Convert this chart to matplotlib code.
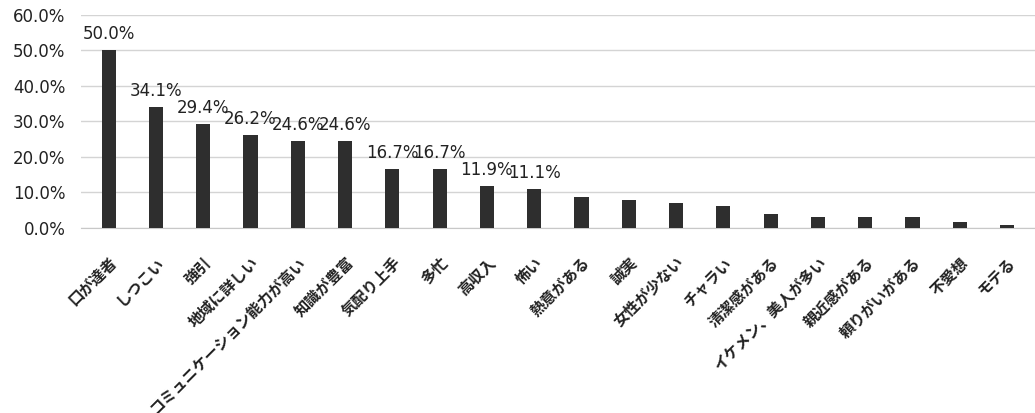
import numpy as np
import matplotlib
matplotlib.use("Agg")
import matplotlib.pyplot as plt
from matplotlib.ticker import FuncFormatter

plt.rcParams['font.family'] = ['Noto Sans CJK JP', 'DejaVu Sans']

# data
categories = ['口が達者', 'しつこい', '強引', '地域に詳しい', 'コミュニケーション能力が高い',
              '知識が豊富', '気配り上手', '多忙', '高収入', '怖い', '熱意がある', '誠実',
              '女性が少ない', 'チャラい', '清潔感がある', 'イケメン、美人が多い',
              '親近感がある', '頼りがいがある', '不愛想', 'モテる']
values = [50.0, 34.1, 29.4, 26.2, 24.6, 24.6, 16.7, 16.7, 11.9, 11.1,
          8.7, 7.9, 7.1, 6.3, 4.0, 3.2, 3.2, 3.2, 1.6, 0.8]
n_labelled = 10
y_ticks = [0, 10, 20, 30, 40, 50, 60]

fig = plt.figure(figsize=(10.35, 4.13), dpi=100)
ax = fig.add_axes([0.078, 0.448, 0.922, 0.516])

x = np.arange(len(categories))
bars = ax.bar(x, values, width=0.3, color='#2e2e2e', zorder=3)

# value labels on the first bars
for i in range(n_labelled):
    ax.annotate(f'{values[i]:.1f}%', (x[i], values[i]), xytext=(0, 5),
                textcoords='offset points', ha='center', va='bottom',
                fontsize=12, family='DejaVu Sans', color='#222222')

ax.set_ylim(0, 60)
ax.set_xlim(-0.59, len(categories) - 1 + 0.59)
ax.set_yticks(y_ticks)
ax.yaxis.set_major_formatter(FuncFormatter(lambda v, p: f'{v:.1f}%'))
ax.tick_params(axis='y', length=0, pad=11, labelsize=12, labelcolor='#222222')
for lab in ax.get_yticklabels():
    lab.set_family('DejaVu Sans')

ax.set_xticks(x)
ax.set_xticklabels(categories, rotation=45, ha='right', rotation_mode='anchor',
                   fontsize=11, fontweight='bold', color='#222222')
ax.tick_params(axis='x', length=0, pad=19)

ax.grid(axis='y', color='#d4d4d4', linewidth=1, zorder=0)
for s in ['top', 'right', 'left']:
    ax.spines[s].set_visible(False)
ax.spines['bottom'].set_color('#c8c8c8')

fig.savefig('out.png', dpi=100)
